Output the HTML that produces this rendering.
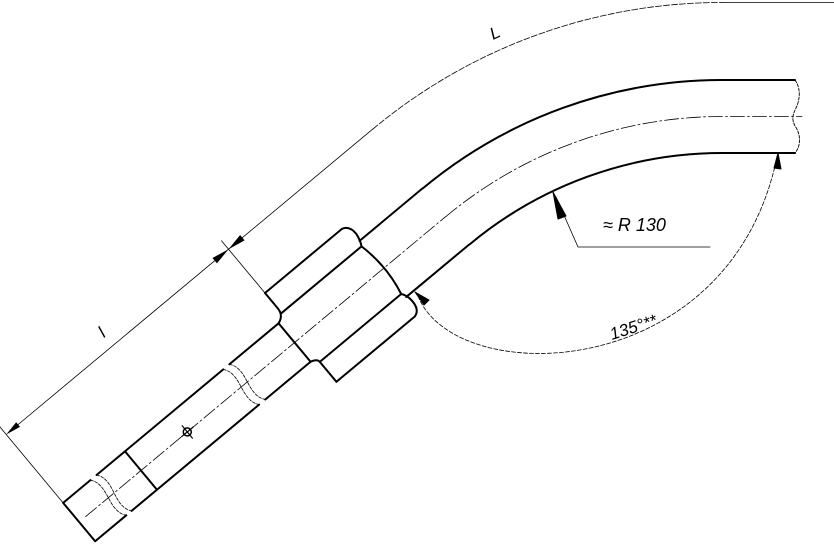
<!DOCTYPE html>
<html><head><meta charset="utf-8"><style>
html,body{margin:0;padding:0;background:#fff;}
svg{display:block}
text{font-family:"Liberation Sans Narrow","Liberation Sans",sans-serif;font-style:italic;fill:#000}
</style></head><body>
<svg width="834" height="544" viewBox="0 0 834 544" xmlns="http://www.w3.org/2000/svg">
<g fill="none" stroke="#000" stroke-linecap="round" stroke-linejoin="round">
<g transform="matrix(0.768,-0.640,0.640,0.768,289.2,347.0)">
  <path stroke-width="2" d="M-273.5,-25 V25 M-273.5,-25 H-238 M-230,-25 H-65 M-57,-25 H7 M-273.5,25 H-233 M-226,25 H-60 M-52,25 H7 M-193,-25 V25"/>
  <path stroke-width="0.8" stroke-dasharray="3 1.5" d="M-238,-25 C-226,-10 -245,10 -233,25 M-230,-25 C-218,-10 -238,10 -226,25 M-65,-25 C-53,-10 -72,10 -60,25 M-57,-25 C-45,-10 -64,10 -52,25"/>
  <path stroke-width="2" d="M7,-25 V25"/>
  <path stroke-width="2" d="M16,-57 H116 M16,-31 H120 M14,31 H120 M16,57 H116 M16,-57 V-37 Q16,-28 7,-25 M7,25 Q14,27 14,31 V57 L16,57 M116,-57 Q124,-55 124,-44 Q123,-36 120,-31 Q127,0 120,31 Q124,36 124,44 Q124,55 116,57"/>
  <path stroke-width="2" d="M122,-36.5 H204 M122,36.5 H204"/>
  <path stroke-width="0.8" stroke-dasharray="14 3 2 3" d="M-265,0 H204"/>
  <circle cx="-132.7" cy="0" r="4" stroke-width="1.5"/>
  <path stroke-width="1.2" d="M-140,0 H-125 M-132.7,-8 V8"/>
  <path stroke-width="0.8" d="M-270,-114 H204 M16,-57 V-125 M-273.5,-25 V-125"/>
  <polygon fill="#000" stroke="none" points="16,-114 34,-117.5 34,-110.5"/>
  <polygon fill="#000" stroke="none" points="16,-114 -2,-117.5 -2,-110.5"/>
  <polygon fill="#000" stroke="none" points="-273.5,-114 -258,-117 -258,-111"/>
</g>
<path stroke-width="2" d="M422.6,188.5 A467.5,467.5 0 0 1 722,80 H795"/>
<path stroke-width="2" d="M469.5,244.5 A394.5,394.5 0 0 1 722,153 H795"/>
<path stroke-width="0.8" stroke-dasharray="14 3 2 3" d="M446,216.5 A431,431 0 0 1 722,116.5 H802"/>
<path stroke-width="0.9" stroke-dasharray="3 1.5" d="M795,80 C801,88 800,100 796,108 C792,116 792,120 795,126 C801,134 801,146 795,153"/>
<path stroke-width="0.8" stroke-dasharray="6 2" d="M373.1,128.9 A545,545 0 0 1 722,2.5"/>
<path stroke-width="0.8" d="M722,2.5 H834"/>
<path stroke-width="0.8" d="M556,197 L578,247 H710"/>
<polygon fill="#000" points="553,192 566,216 558,219"/>
<path stroke-width="0.8" stroke-dasharray="4 2" d="M418,296 C455,390 730,385 777,157"/>
<polygon fill="#000" points="415,292 429,300 424,305"/>
<polygon fill="#000" points="778,153 781,169 774,168"/>
</g>
<text x="0" y="0" font-size="17" transform="translate(104,338) rotate(-40)">l</text>
<text x="0" y="0" font-size="17" transform="translate(493,40) rotate(-25)">L</text>
<text x="603" y="231" font-size="18">≈ R 130</text>
<text x="0" y="0" font-size="17" transform="translate(612,340) rotate(-18)">135°**</text>
</svg>
</body></html>
